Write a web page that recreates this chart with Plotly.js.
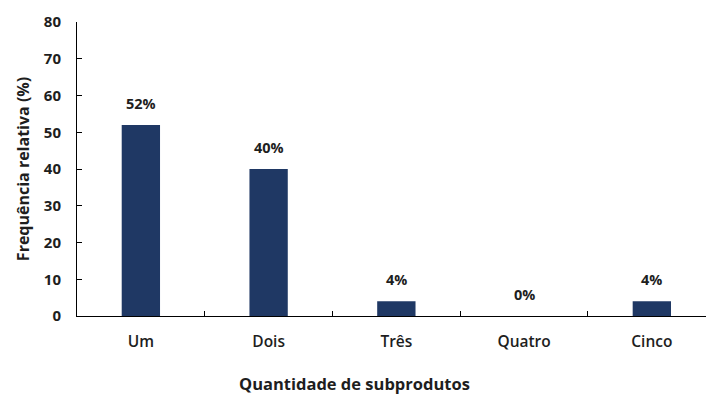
<!DOCTYPE html>
<html>
<head>
<meta charset="utf-8">
<script src="https://cdn.plot.ly/plotly-3.0.1.min.js"></script>
<style>
  html, body { margin: 0; padding: 0; background: #fff; }
  #chart { width: 706px; height: 398px; }
</style>
</head>
<body>
<div id="chart"></div>
<script>
// Número de subprodutos por estabelecimento
const categorias = ["Um", "Dois", "Três", "Quatro", "Cinco"];
const frequencias = [52, 40, 4, 0, 4];
const yTicks = [0, 10, 20, 30, 40, 50, 60, 70, 80];

const FONT = "'Open Sans', sans-serif";
const INK = "#1e1e1e";

const trace = {
  type: "bar",
  x: categorias,
  y: frequencias,
  width: 0.3,
  marker: { color: "#1f3864", line: { width: 0 } },
  hoverinfo: "skip"
};

// Rótulos de percentagem acima de cada barra
const rotulos = categorias.map((c, i) => ({
  x: c,
  y: frequencias[i],
  xref: "x",
  yref: "y",
  text: frequencias[i] + "%",
  showarrow: false,
  yanchor: "bottom",
  yshift: 10,
  font: { family: FONT, size: 14.5, color: INK, weight: "bold" }
}));

rotulos.push({
  xref: "paper",
  yref: "paper",
  x: 0.441,
  y: -0.228,
  xanchor: "center",
  yanchor: "middle",
  text: "Quantidade de subprodutos",
  showarrow: false,
  font: { family: FONT, size: 16.5, color: INK, weight: "bold" }
});

const layout = {
  width: 706,
  height: 398,
  margin: { l: 77, r: 0, t: 22, b: 82 },
  paper_bgcolor: "#ffffff",
  plot_bgcolor: "#ffffff",
  showlegend: false,
  xaxis: {
    type: "category",
    range: [-0.5, 4.424],
    showline: true,
    linecolor: "#000",
    linewidth: 1,
    showgrid: false,
    zeroline: false,
    ticks: "inside",
    tickson: "boundaries",
    ticklen: 5,
    tickcolor: "#000",
    ticklabelstandoff: 11,
    tickfont: { family: FONT, size: 15.5, color: INK, weight: 600 }
  },
  yaxis: {
    range: [0, 80],
    tickvals: yTicks,
    showline: true,
    linecolor: "#000",
    linewidth: 1,
    showgrid: false,
    zeroline: false,
    ticks: "inside",
    ticklen: 5,
    tickcolor: "#000",
    ticklabelstandoff: 12,
    tickfont: { family: FONT, size: 15, color: INK, weight: "bold" },
    title: {
      text: "Frequência relativa (%)",
      standoff: 10,
      font: { family: FONT, size: 16, color: INK, weight: "bold" }
    }
  },
  annotations: rotulos
};

Plotly.newPlot("chart", [trace], layout, { staticPlot: true, displayModeBar: false });
</script>
</body>
</html>
